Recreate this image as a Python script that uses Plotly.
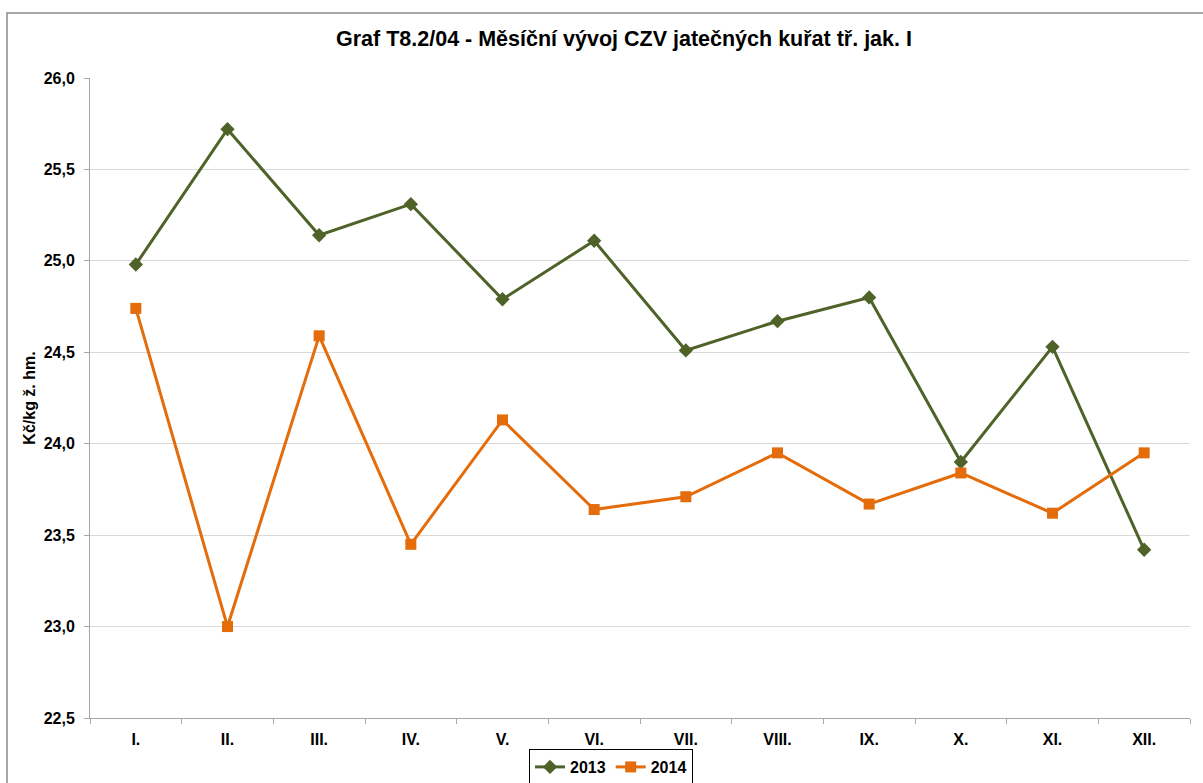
import plotly.graph_objects as go

months = ["I.", "II.", "III.", "IV.", "V.", "VI.", "VII.", "VIII.", "IX.", "X.", "XI.", "XII."]
values_2013 = [24.98, 25.72, 25.14, 25.31, 24.79, 25.11, 24.51, 24.67, 24.80, 23.90, 24.53, 23.42]
values_2014 = [24.74, 23.00, 24.59, 23.45, 24.13, 23.64, 23.71, 23.95, 23.67, 23.84, 23.62, 23.95]
y_ticks = [22.5, 23.0, 23.5, 24.0, 24.5, 25.0, 25.5, 26.0]
y_tick_labels = ["22,5", "23,0", "23,5", "24,0", "24,5", "25,0", "25,5", "26,0"]

FONT = "Liberation Sans, Arial, sans-serif"

fig = go.Figure()
fig.add_trace(go.Scatter(
    x=months, y=values_2013, name="<b>2013</b>", mode="lines+markers",
    line=dict(color="#4f6228", width=3),
    marker=dict(symbol="diamond", size=11, color="#4f6228"),
))
fig.add_trace(go.Scatter(
    x=months, y=values_2014, name="<b>2014</b>", mode="lines+markers",
    line=dict(color="#e46c0a", width=3),
    marker=dict(symbol="square", size=11, color="#e46c0a"),
))

L, R, T, B = 90, 13, 78, 65
W, H = 1203, 783
pw = W - L - R
ph = H - T - B

fig.update_layout(
    width=W, height=H,
    margin=dict(l=L, r=R, t=T, b=B, pad=0, autoexpand=False),
    paper_bgcolor="white", plot_bgcolor="white",
    font=dict(family=FONT, color="black", size=16),
    title=dict(text="<b>Graf T8.2/04 - Měsíční vývoj CZV jatečných kuřat tř. jak. I</b>",
               x=624 / W, xanchor="center", y=1 - 38 / H, yanchor="middle",
               font=dict(size=21.5, family=FONT)),
    showlegend=True,
    legend=dict(orientation="h", x=(611 - L) / pw, xanchor="center",
                y=-(749 - (T + ph)) / ph, yanchor="top",
                bordercolor="black", borderwidth=1,
                font=dict(size=16, family=FONT), itemwidth=30,
                tracegroupgap=0),
    xaxis=dict(
        type="category", showgrid=False, showline=True, linecolor="#a6a6a6", linewidth=1,
        ticks="outside", ticklen=5, tickcolor="#a6a6a6", tickson="boundaries",
        tickfont=dict(size=16, family=FONT), tickprefix="<b>", ticksuffix="</b>",
        ticklabelstandoff=7, automargin=False,
        range=[-0.5, 11.5], fixedrange=True,
    ),
    yaxis=dict(
        range=[22.5, 26.0], tickvals=y_ticks, ticktext=["<b>%s</b>" % t for t in y_tick_labels],
        showgrid=True, gridcolor="#d9d9d9", gridwidth=1,
        showline=True, linecolor="#a6a6a6", linewidth=1,
        ticks="outside", ticklen=5, tickcolor="#a6a6a6",
        ticklabelstandoff=6, automargin=False,
        tickfont=dict(size=16, family=FONT), zeroline=False,
        title=dict(text="<b>Kč/kg ž. hm.</b>", font=dict(size=16, family=FONT), standoff=4),
    ),
    shapes=[dict(
        type="rect", xref="paper", yref="paper",
        x0=(7 - L) / pw, x1=(W + 60 - L) / pw,
        y0=-(H + 60 - (T + ph)) / ph, y1=1 + (T - 13) / ph,
        line=dict(color="#8c8c8c", width=1.5), layer="below",
    )],
)

fig.write_html("out.html", config={"displayModeBar": False},
               post_script="document.body.style.margin='0';document.body.style.overflow='hidden';")
